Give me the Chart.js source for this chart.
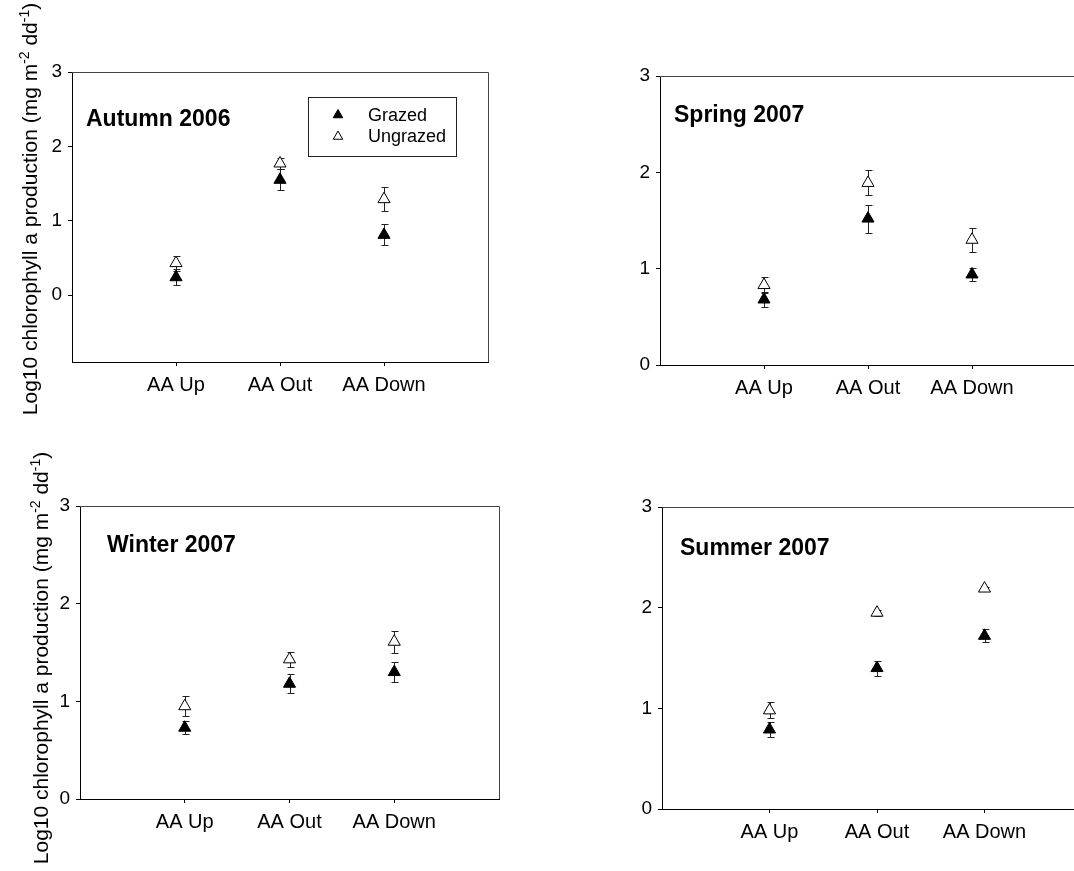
<!DOCTYPE html>
<html>
<head>
<meta charset="utf-8">
<script src="https://cdn.jsdelivr.net/npm/chart.js@4.4.0/dist/chart.umd.min.js"></script>
<style>
  html, body { margin: 0; padding: 0; background: #fff; overflow: hidden; width: 1074px; height: 871px; }
  .panel { position: absolute; }
  canvas { display: block; }
</style>
</head>
<body>
<div class="panel" style="left:0px;top:0px"><canvas id="autumn" width="500" height="430"></canvas></div>
<div class="panel" style="left:560px;top:0px"><canvas id="spring" width="540" height="430"></canvas></div>
<div class="panel" style="left:0px;top:430px"><canvas id="winter" width="520" height="441"></canvas></div>
<div class="panel" style="left:560px;top:430px"><canvas id="summer" width="540" height="441"></canvas></div>
<script>
// sites along the x axis
const categories = ['AA Up', 'AA Out', 'AA Down'];
const yTicks = [0, 1, 2, 3];
const seriesNames = ['Grazed', 'Ungrazed'];

// means and error (+/-) per site
const autumnGrazed = [0.24, 1.55, 0.81];
const autumnGrazedErr = [0.11, 0.14, 0.14];
const autumnUngrazed = [0.43, 1.77, 1.29];
const autumnUngrazedErr = [0.10, 0.07, 0.16];

const springGrazed = [0.68, 1.52, 0.94];
const springGrazedErr = [0.08, 0.145, 0.07];
const springUngrazed = [0.83, 1.89, 1.30];
const springUngrazedErr = [0.08, 0.13, 0.125];

const winterGrazed = [0.73, 1.18, 1.30];
const winterGrazedErr = [0.065, 0.095, 0.10];
const winterUngrazed = [0.95, 1.43, 1.61];
const winterUngrazedErr = [0.10, 0.08, 0.11];

const summerGrazed = [0.79, 1.40, 1.72];
const summerGrazedErr = [0.07, 0.075, 0.065];
const summerUngrazed = [0.98, 1.95, 2.19];
const summerUngrazedErr = [0.08, 0.03, 0.02];

const yTitleParts = [
  ['Log10 chlorophyll a production (mg m', false],
  ['-2', true],
  [' dd', false],
  ['-1', true],
  [')', false],
];

const FONT = '"Liberation Sans", Arial, Helvetica, sans-serif';
Chart.defaults.font.family = FONT;
Chart.defaults.font.size = 19;
Chart.defaults.color = '#000';

// vertical error bars with caps, drawn under the markers
const errorBars = {
  id: 'errorBars',
  beforeDatasetsDraw(chart) {
    const { ctx, scales: { x, y } } = chart;
    ctx.save();
    ctx.strokeStyle = '#222';
    ctx.lineWidth = 1;
    chart.data.datasets.forEach(ds => {
      ds.data.forEach((p, i) => {
        const e = ds.errors[i];
        const px = Math.round(x.getPixelForValue(p.x)) + 0.5;
        const top = Math.round(y.getPixelForValue(p.y + e)) + 0.5;
        const bot = Math.round(y.getPixelForValue(p.y - e)) + 0.5;
        ctx.beginPath();
        ctx.moveTo(px, top); ctx.lineTo(px, bot);
        ctx.moveTo(px - 3, top); ctx.lineTo(px + 4, top);
        ctx.moveTo(px - 3, bot); ctx.lineTo(px + 4, bot);
        ctx.stroke();
      });
    });
    ctx.restore();
  }
};

// top and right sides of the frame
const frame = {
  id: 'frame',
  afterDraw(chart) {
    const { ctx, chartArea: a } = chart;
    ctx.save();
    ctx.strokeStyle = '#444';
    ctx.lineWidth = 1;
    ctx.beginPath();
    ctx.moveTo(a.left, a.top + 0.5);
    ctx.lineTo(a.right + 0.5, a.top + 0.5);
    ctx.lineTo(a.right + 0.5, a.bottom);
    ctx.stroke();
    ctx.restore();
  }
};

const panelTitle = {
  id: 'panelTitle',
  afterDraw(chart, args, opts) {
    if (!opts.text) return;
    const { ctx, chartArea: a } = chart;
    ctx.save();
    ctx.font = 'bold 23px ' + FONT;
    ctx.fillStyle = '#000';
    ctx.textBaseline = 'alphabetic';
    ctx.fillText(opts.text, a.left + opts.dx, a.top + opts.dy);
    ctx.restore();
  }
};

const boxLegend = {
  id: 'boxLegend',
  afterDraw(chart, args, opts) {
    if (!opts.show) return;
    const { ctx, chartArea: a } = chart;
    const bx = a.left + opts.dx, by = a.top + opts.dy;
    ctx.save();
    ctx.strokeStyle = '#222';
    ctx.lineWidth = 1;
    ctx.strokeRect(bx + 0.5, by + 0.5, opts.w, opts.h);
    chart.data.datasets.forEach((ds, i) => {
      const cy = by + 18 + i * 21.5;
      ctx.fillStyle = ds.backgroundColor;
      ctx.strokeStyle = '#000';
      ctx.lineWidth = 1;
      Chart.helpers.drawPoint(ctx, { pointStyle: 'triangle', radius: 5.5, borderWidth: 1 }, bx + 30, cy);
      ctx.fillStyle = '#000';
      ctx.font = '18px ' + FONT;
      ctx.textBaseline = 'middle';
      ctx.fillText(ds.label, bx + 60, cy + 1);
    });
    ctx.restore();
  }
};

const yTitle = {
  id: 'yTitle',
  afterDraw(chart, args, opts) {
    if (!opts.show) return;
    const ctx = chart.ctx;
    const big = '21px ' + FONT, small = '14px ' + FONT;
    ctx.save();
    let total = 0;
    yTitleParts.forEach(([t, sup]) => {
      ctx.font = sup ? small : big;
      total += ctx.measureText(t).width;
    });
    ctx.translate(opts.x, opts.y);
    ctx.rotate(-Math.PI / 2);
    ctx.fillStyle = '#000';
    ctx.textBaseline = 'alphabetic';
    let cx = -total / 2;
    yTitleParts.forEach(([t, sup]) => {
      ctx.font = sup ? small : big;
      ctx.fillText(t, cx, sup ? -8 : 0);
      cx += ctx.measureText(t).width;
    });
    ctx.restore();
  }
};

function points(vals) {
  return vals.map((v, i) => ({ x: i + 1, y: v }));
}

function makePanel(id, grazed, grazedErr, ungrazed, ungrazedErr, p) {
  const ctx = document.getElementById(id).getContext('2d');
  return new Chart(ctx, {
    type: 'scatter',
    data: {
      datasets: [{
        label: seriesNames[0],
        data: points(grazed),
        errors: grazedErr,
        pointStyle: 'triangle',
        pointRadius: 7,
        backgroundColor: '#000',
        borderColor: '#000',
        borderWidth: 1,
      }, {
        label: seriesNames[1],
        data: points(ungrazed),
        errors: ungrazedErr,
        pointStyle: 'triangle',
        pointRadius: 7,
        backgroundColor: '#fff',
        borderColor: '#000',
        borderWidth: 1,
      }],
    },
    options: {
      responsive: false,
      animation: false,
      events: [],
      layout: { padding: { left: 0, top: p.padTop, right: p.padRight, bottom: 0 } },
      scales: {
        x: {
          type: 'linear',
          min: 0,
          max: 4,
          afterBuildTicks: axis => { axis.ticks = categories.map((c, i) => ({ value: i + 1 })); },
          afterFit: s => { s.height = p.xHeight; },
          ticks: {
            padding: 7,
            font: { size: 20 },
            callback: v => categories[v - 1],
          },
          grid: { drawOnChartArea: false, drawTicks: true, tickLength: 4, color: '#000' },
          border: { display: true, color: '#000', width: 1 },
        },
        y: {
          min: p.yMin,
          max: 3,
          afterBuildTicks: axis => { axis.ticks = yTicks.map(v => ({ value: v })); },
          afterFit: s => { s.width = p.yWidth; },
          ticks: { padding: 6, font: { size: 19 } },
          grid: { drawOnChartArea: false, drawTicks: true, tickLength: 4, color: '#000' },
          border: { display: true, color: '#000', width: 1 },
        },
      },
      plugins: {
        legend: { display: false },
        tooltip: { enabled: false },
        panelTitle: { text: p.title, dx: p.tdx, dy: p.tdy },
        boxLegend: { show: !!p.legend, dx: 236, dy: 25, w: 148, h: 59 },
        yTitle: { show: !!p.yTitle, x: p.yTitle ? p.yTitle.x : 0, y: p.yTitle ? p.yTitle.y : 0 },
      },
    },
    plugins: [errorBars, frame, panelTitle, boxLegend, yTitle],
  });
}

makePanel('autumn', autumnGrazed, autumnGrazedErr, autumnUngrazed, autumnUngrazedErr, {
  padTop: 72, padRight: 12, xHeight: 68, yWidth: 72, yMin: -0.9,
  title: 'Autumn 2006', tdx: 14, tdy: 54, legend: true, yTitle: { x: 37, y: 209 },
});
makePanel('spring', springGrazed, springGrazedErr, springUngrazed, springUngrazedErr, {
  padTop: 76, padRight: 24, xHeight: 65, yWidth: 100, yMin: 0,
  title: 'Spring 2007', tdx: 14, tdy: 46,
});
makePanel('winter', winterGrazed, winterGrazedErr, winterUngrazed, winterUngrazedErr, {
  padTop: 76, padRight: 21, xHeight: 72, yWidth: 80, yMin: 0,
  title: 'Winter 2007', tdx: 27, tdy: 46, yTitle: { x: 48, y: 228 },
});
makePanel('summer', summerGrazed, summerGrazedErr, summerUngrazed, summerUngrazedErr, {
  padTop: 77, padRight: 6, xHeight: 62, yWidth: 102, yMin: 0,
  title: 'Summer 2007', tdx: 18, tdy: 48,
});
</script>
</body>
</html>
